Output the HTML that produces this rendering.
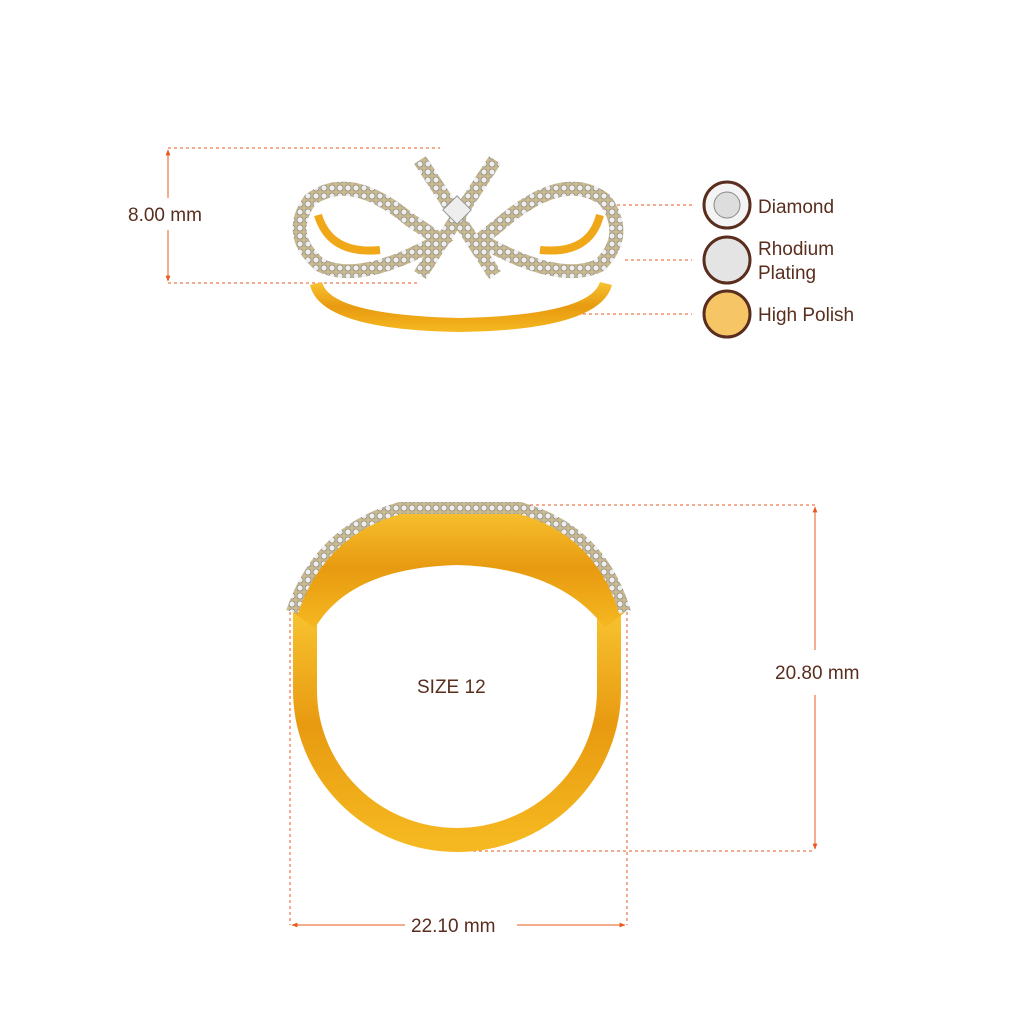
<!DOCTYPE html>
<html><head><meta charset="utf-8"><style>
body{margin:0;background:#fff;}
svg{display:block}
text{font-family:"Liberation Sans",sans-serif;fill:#5a2e1e;}
</style></head><body>
<svg width="1024" height="1024" viewBox="0 0 1024 1024" xmlns="http://www.w3.org/2000/svg">
<defs>
<linearGradient id="g" x1="0" y1="0" x2="0" y2="1"><stop offset="0" stop-color="#f7c230"/><stop offset="0.5" stop-color="#e89a10"/><stop offset="1" stop-color="#f5b820"/></linearGradient>
<pattern id="dia" width="8" height="8" patternUnits="userSpaceOnUse"><rect width="8" height="8" fill="#c9b98c"/><circle cx="4" cy="4" r="3" fill="#eeeeee" stroke="#777" stroke-width="0.6"/></pattern>
<marker id="a" viewBox="0 0 10 10" refX="9" refY="5" markerWidth="6" markerHeight="6" orient="auto-start-reverse"><path d="M0,1 L10,5 L0,9 z" fill="#e8591c"/></marker>
</defs>
<g stroke="#e8591c" stroke-width="1" fill="none">
<line x1="168" y1="148" x2="440" y2="148" stroke-dasharray="3,3"/>
<line x1="168" y1="283" x2="420" y2="283" stroke-dasharray="3,3"/>
<line x1="168" y1="150" x2="168" y2="198" marker-start="url(#a)"/>
<line x1="168" y1="230" x2="168" y2="281" marker-end="url(#a)"/>
<line x1="605" y1="205" x2="692" y2="205" stroke-dasharray="3,3"/>
<line x1="625" y1="260" x2="692" y2="260" stroke-dasharray="3,3"/>
<line x1="553" y1="314" x2="692" y2="314" stroke-dasharray="3,3"/>
<line x1="500" y1="505" x2="815" y2="505" stroke-dasharray="3,3"/>
<line x1="455" y1="851" x2="815" y2="851" stroke-dasharray="3,3"/>
<line x1="815" y1="507" x2="815" y2="650" marker-start="url(#a)"/>
<line x1="815" y1="695" x2="815" y2="849" marker-end="url(#a)"/>
<line x1="290" y1="612" x2="290" y2="925" stroke-dasharray="3,3"/>
<line x1="627" y1="612" x2="627" y2="925" stroke-dasharray="3,3"/>
<line x1="292" y1="925" x2="405" y2="925" marker-start="url(#a)"/>
<line x1="517" y1="925" x2="625" y2="925" marker-end="url(#a)"/>
</g>
<text x="128" y="221" font-size="19">8.00 mm</text>
<text x="775" y="679" font-size="19">20.80 mm</text>
<text x="411" y="932" font-size="19">22.10 mm</text>
<text x="417" y="693" font-size="19">SIZE 12</text>
<circle cx="727" cy="205" r="23" fill="#f4f4f4" stroke="#5a2e1e" stroke-width="3"/>
<circle cx="727" cy="205" r="13" fill="#ddd" stroke="#888"/>
<circle cx="727" cy="260" r="23" fill="#e4e4e4" stroke="#5a2e1e" stroke-width="3"/>
<circle cx="727" cy="314" r="23" fill="#f5c566" stroke="#5a2e1e" stroke-width="3"/>
<text x="758" y="213" font-size="19">Diamond</text>
<text x="758" y="255" font-size="19">Rhodium</text>
<text x="758" y="279" font-size="19">Plating</text>
<text x="758" y="321" font-size="19">High Polish</text>
<!-- top ring -->
<path d="M310,285 Q320,330 460,332 Q600,330 612,285 L600,282 Q590,315 460,318 Q330,315 322,282 z" fill="url(#g)"/>
<path d="M410,220 Q350,170 310,200 Q285,235 320,265 Q360,285 440,240 Z" fill="none" stroke="url(#dia)" stroke-width="14"/>
<path d="M505,220 Q565,170 605,200 Q630,235 600,265 Q560,285 480,240 Z" fill="none" stroke="url(#dia)" stroke-width="14"/>
<path d="M318,215 Q330,255 380,250" fill="none" stroke="#f0a818" stroke-width="8"/>
<path d="M600,215 Q590,255 540,250" fill="none" stroke="#f0a818" stroke-width="8"/>
<path d="M420,160 L495,275 M495,160 L420,275" stroke="url(#dia)" stroke-width="14"/>
<rect x="447" y="200" width="20" height="20" fill="#eee" stroke="#999" transform="rotate(45 457 210)"/>
<!-- bottom ring -->
<path d="M305,612 L305,690 A152,150 0 0 0 609,690 L609,612" fill="none" stroke="url(#g)" stroke-width="24"/>
<path d="M292,612 Q320,530 400,508 L520,508 Q600,530 625,612 L605,628 Q560,568 457,565 Q350,568 315,628 z" fill="url(#g)"/>
<path d="M292,612 Q320,530 400,508 L520,508 Q600,530 625,612" fill="none" stroke="url(#dia)" stroke-width="12"/>
</svg>
</body></html>
